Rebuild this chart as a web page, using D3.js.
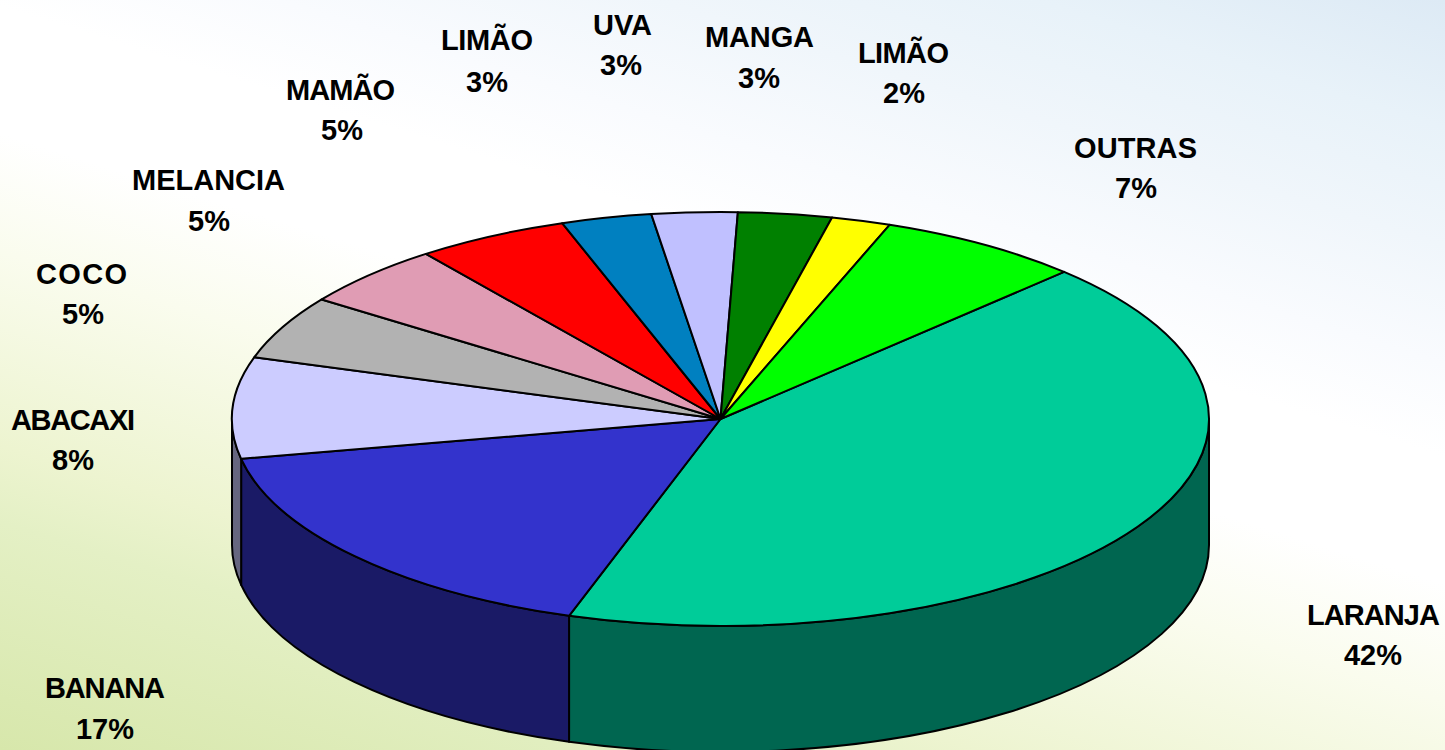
<!DOCTYPE html>
<html><head><meta charset="utf-8">
<script src="https://cdnjs.cloudflare.com/ajax/libs/d3/7.8.5/d3.min.js"></script>
<style>html,body{margin:0;padding:0;overflow:hidden;background:#fff}svg{display:block}</style>
</head><body><svg id="c" width="1445" height="750"></svg>
<script>
const names = ["LARANJA","BANANA","ABACAXI","COCO","MELANCIA","MAMÃO","LIMÃO","UVA","MANGA","LIMÃO","OUTRAS"];
const shares = [42.6,16.9,7.9,4.98,4.9,5.05,2.99,2.83,3.1,1.96,6.79];
const percentLabels = ["42%","17%","8%","5%","5%","5%","3%","3%","3%","2%","7%"];
const colors = ["#00CC99","#3333CC","#CCCCFF","#B2B2B2","#E09CB4","#FF0000","#0080C0","#C0C0FF","#008000","#FFFF00","#00FF00"];
const sideColors = ["#006650","#1A1A66","#666680"];
const nameX = [1373.5,105,73,81.5,208.5,340.5,487,622.5,759.5,903.5,1135.5];
const nameY = [625,698,430,284,190,100,50,35,47,63,158];
const nameLen = [133,120,124,91,153,109,92,59,109,91,123];
const pctX = [1373,105,73,83,209,342,487,621,759,904,1136];
const pctY = [665,739,470,324,231,140,92,75,88,103,198];

const W=1445,H=750,cx=720.5,cy=419,rx=488.5,ry=207,depth=126;
const svg=d3.select("#c");
const defs=svg.append("defs");
const g=defs.append("linearGradient").attr("id","bg").attr("gradientUnits","userSpaceOnUse")
  .attr("x1",472).attr("y1",914).attr("x2",820).attr("y2",-202.5);
[[-0.18,"#D7E7AB"],[0.09,"#E4F0C5"],[0.18,"#EDF4D0"],[0.41,"#FAFCEE"],[0.55,"#FFFFFF"],[0.7,"#FFFFFF"],[0.81,"#F9FBFE"],[0.95,"#F0F6FB"],[1.09,"#E8F2F9"],[1.24,"#DDEAF5"]]
  .forEach(s=>g.append("stop").attr("offset",(s[0]+0.2)/1.45).attr("stop-color",s[1]));
svg.append("rect").attr("width",W).attr("height",H).attr("fill","url(#bg)");

const startDeg=44.7;
const pie=d3.pie().sort(null).value(d=>d)
  .startAngle(startDeg*Math.PI/180).endAngle((startDeg+360)*Math.PI/180);
const arcs=pie(shares);
const px=a=>cx+rx*Math.sin(a), py=a=>cy-ry*Math.cos(a);
const PI=Math.PI;
function arcTo(a,dy,sweep){return `A${rx},${ry} 0 0 ${sweep} ${px(a)},${py(a)+dy}`;}

arcs.forEach((d,i)=>{
  const a0=Math.max(d.startAngle,PI/2), a1=Math.min(d.endAngle,1.5*PI);
  if(a1<=a0) return;
  svg.append("path")
    .attr("d",`M${px(a0)},${py(a0)}${arcTo(a1,0,1)}L${px(a1)},${py(a1)+depth}${arcTo(a0,depth,0)}Z`)
    .attr("fill",sideColors[i]).attr("stroke","#000").attr("stroke-width",2).attr("stroke-linejoin","round");
});
arcs.forEach((d,i)=>{
  const large=(d.endAngle-d.startAngle)>PI?1:0;
  svg.append("path")
    .attr("d",`M${cx},${cy}L${px(d.startAngle)},${py(d.startAngle)}A${rx},${ry} 0 ${large} 1 ${px(d.endAngle)},${py(d.endAngle)}Z`)
    .attr("fill",colors[i]).attr("stroke","#000").attr("stroke-width",2).attr("stroke-linejoin","round");
});
const t=svg.append("g").attr("font-family","'Liberation Sans',Arial,sans-serif").attr("font-weight","700")
  .attr("font-size",29).attr("text-anchor","middle").attr("fill","#000");
names.forEach((n,i)=>{
  t.append("text").attr("x",nameX[i]).attr("y",nameY[i]).attr("textLength",nameLen[i]).attr("lengthAdjust","spacing").text(n);
  t.append("text").attr("x",pctX[i]).attr("y",pctY[i]).text(percentLabels[i]);
});
</script></body></html>
